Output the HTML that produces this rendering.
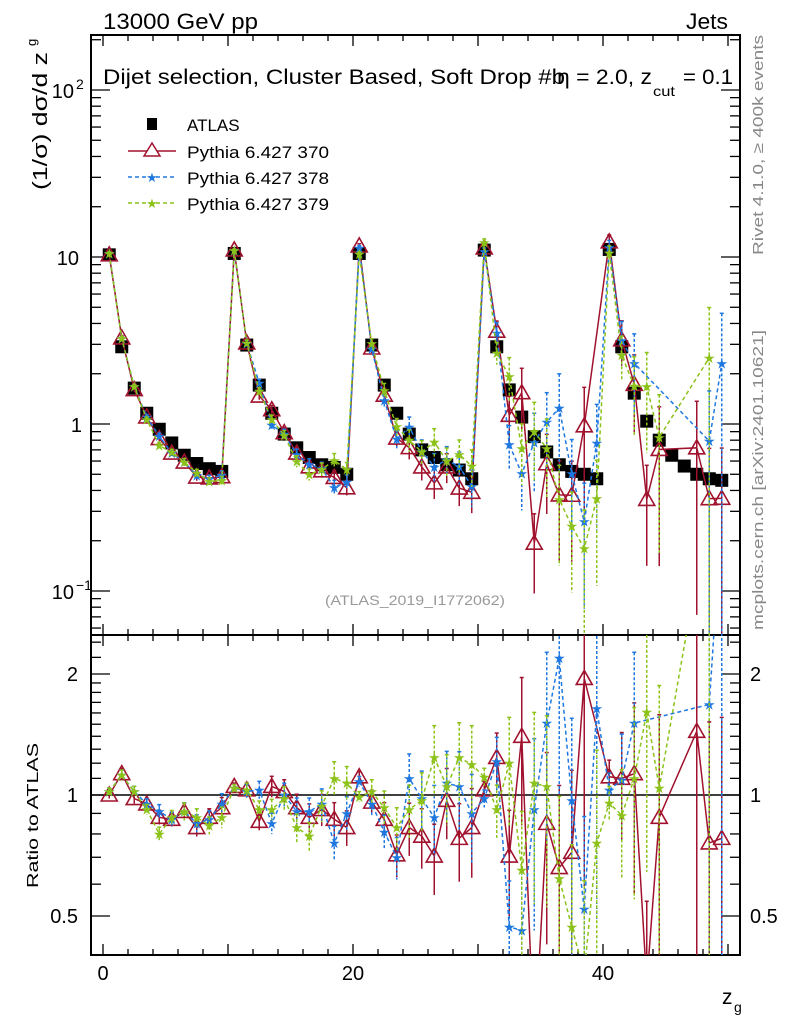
<!DOCTYPE html>
<html><head><meta charset="utf-8"><style>
html,body{margin:0;padding:0;background:#fff;width:786px;height:1024px;overflow:hidden;}
svg{display:block;font-family:"Liberation Sans",sans-serif;}
</style></head><body>
<svg id="chart" width="786" height="1024" viewBox="0 0 786 1024" xmlns="http://www.w3.org/2000/svg">
<defs>
<clipPath id="cm"><rect x="91" y="35" width="649" height="600"/></clipPath>
<clipPath id="cr"><rect x="91" y="635" width="649" height="320"/></clipPath>
</defs>
<text x="103" y="29" font-size="22" textLength="155" lengthAdjust="spacingAndGlyphs">13000 GeV pp</text>
<text x="686" y="29" font-size="22" textLength="42" lengthAdjust="spacingAndGlyphs">Jets</text>
<text x="103" y="84" font-size="21" textLength="462" lengthAdjust="spacingAndGlyphs">Dijet selection, Cluster Based, Soft Drop #b</text>
<text x="557" y="84" font-size="21" textLength="95" lengthAdjust="spacingAndGlyphs">η = 2.0, z</text>
<text x="653" y="96" font-size="14" textLength="22" lengthAdjust="spacingAndGlyphs">cut</text>
<text x="683" y="84" font-size="21" textLength="50" lengthAdjust="spacingAndGlyphs">= 0.1</text>
<text transform="translate(47,190) rotate(-90)" font-size="20" textLength="138" lengthAdjust="spacingAndGlyphs">(1/σ) dσ/d z</text>
<text transform="translate(36,46) rotate(-90)" font-size="13">g</text>
<text transform="translate(38,888) rotate(-90)" font-size="16" textLength="145" lengthAdjust="spacingAndGlyphs">Ratio to ATLAS</text>
<text transform="translate(763,255) rotate(-90)" font-size="15" fill="#888" textLength="220" lengthAdjust="spacingAndGlyphs">Rivet 4.1.0, ≥ 400k events</text>
<text transform="translate(763,630) rotate(-90)" font-size="15" fill="#888" textLength="300" lengthAdjust="spacingAndGlyphs">mcplots.cern.ch [arXiv:2401.10621]</text>
<text x="325" y="605" font-size="14" fill="#999" textLength="180" lengthAdjust="spacingAndGlyphs">(ATLAS_2019_I1772062)</text>
<text x="722" y="1004" font-size="21">z</text>
<text x="734" y="1012" font-size="14">g</text>
<g id="axes"></g>
<g id="main" clip-path="url(#cm)"></g>
<g id="ratio" clip-path="url(#cr)"></g>
<g id="legend">
<rect x="147" y="118" width="10" height="12" fill="#000"/>
<text x="187" y="131" font-size="17">ATLAS</text>
<line x1="128" y1="151" x2="176" y2="151" stroke="#a0122d" stroke-width="1.5"/>
<path d="M152,143 L160,156 L144,156 Z" fill="#fff" stroke="#a0122d" stroke-width="1.5"/>
<text x="187" y="158" font-size="17" textLength="142" lengthAdjust="spacingAndGlyphs">Pythia 6.427 370</text>
<line x1="128" y1="177" x2="176" y2="177" stroke="#1f78e0" stroke-width="1.5" stroke-dasharray="4,3"/>
<text x="152" y="182" font-size="13" fill="#1f78e0" text-anchor="middle">★</text>
<text x="187" y="184" font-size="17" textLength="142" lengthAdjust="spacingAndGlyphs">Pythia 6.427 378</text>
<line x1="128" y1="203" x2="176" y2="203" stroke="#8cc219" stroke-width="1.5" stroke-dasharray="4,3"/>
<text x="152" y="208" font-size="13" fill="#8cc219" text-anchor="middle">★</text>
<text x="187" y="210" font-size="17" textLength="142" lengthAdjust="spacingAndGlyphs">Pythia 6.427 379</text>
</g>
</svg>
<script>
var binCenters = [0.5,1.5,2.5,3.5,4.5,5.5,6.5,7.5,8.5,9.5,10.5,11.5,12.5,13.5,14.5,15.5,16.5,17.5,18.5,19.5,20.5,21.5,22.5,23.5,24.5,25.5,26.5,27.5,28.5,29.5,30.5,31.5,32.5,33.5,34.5,35.5,36.5,37.5,38.5,39.5,40.5,41.5,42.5,43.5,44.5,45.5,46.5,47.5,48.5,49.5];
var atlasVals = [10.3,2.9,1.64,1.16,0.93,0.77,0.65,0.58,0.54,0.52, 10.5,2.97,1.71,1.16,0.87,0.72,0.63,0.57,0.55,0.50, 10.5,2.97,1.71,1.16,0.87,0.70,0.63,0.57,0.53,0.47, 11.0,2.9,1.6,1.1,0.84,0.68,0.57,0.52,0.50,0.47, 11.1,2.9,1.53,1.04,0.80,0.65,0.56,0.50,0.47,0.46];
var ratio370 = [1.0,1.13,0.98,0.95,0.88,0.87,0.91,0.83,0.88,0.93, 1.05,1.03,0.86,1.05,1.02,0.93,0.88,0.92,0.87,0.83, 1.11,0.96,0.87,0.71,0.83,0.79,0.705,0.97,0.78,0.83, 1.03,1.24,0.705,1.40,0.23,0.85,0.66,0.72,1.95,null, 1.11,1.10,1.13,0.34,0.88,null,null,1.44,0.76,0.78];
var ratio378 = [1.02,1.12,1.02,0.95,0.91,0.87,0.91,0.85,0.87,0.95, 1.04,1.02,1.03,0.85,1.0,0.91,0.91,0.95,0.76,0.90, 1.08,0.95,0.81,0.70,1.10,0.98,0.88,1.07,1.05,0.90, 0.98,1.21,0.47,0.46,0.92,1.51,2.19,0.97,0.52,1.64, 1.03,1.09,1.51,null,null,null,null,null,1.68,5.0];
var ratio379 = [1.02,1.12,1.02,0.92,0.80,0.88,0.91,0.88,0.84,0.88, 1.04,1.03,0.92,0.92,0.98,0.83,0.79,0.94,1.10,1.07, 0.99,1.02,0.93,0.83,0.92,0.97,1.24,1.05,1.24,1.19, 1.11,0.92,1.2,0.65,1.07,1.05,0.62,0.47,0.36,0.76, 0.955,0.89,1.10,1.61,1.04,null,null,null,5.3,null];
var relErr = [0.02,0.03,0.03,0.03,0.04,0.04,0.05,0.05,0.05,0.06, 0.02,0.04,0.05,0.06,0.07,0.08,0.08,0.09,0.1,0.1, 0.03,0.07,0.1,0.12,0.15,0.17,0.2,0.2,0.22,0.25, 0.05,0.15,0.3,0.4,0.5,0.5,0.6,0.6,0.7,0.7, 0.1,0.3,0.5,0.6,0.8,0.8,0.9,0.9,1.0,1.0];
var xTickVals = [0,20,40];
var yMainTickVals = [0.1,1,10,100];
var yMainTickLabels = ["10","1","10","10"];
var yRatioTickVals = [0.5,1,2];
var yRatioTickLabels = ["0.5","1","2"];

var NS="http://www.w3.org/2000/svg";
function X(v){return 103+12.5*v;}
function YM(v){return 424-167*Math.log10(v);}
function YR(r){return 795-121*Math.log2(r);}
function mk(tag,attrs,parent){var e=document.createElementNS(NS,tag);for(var k in attrs)e.setAttribute(k,attrs[k]);parent.appendChild(e);return e;}
var axes=document.getElementById('axes'),main=document.getElementById('main'),rat=document.getElementById('ratio');

var f1=mk('rect',{x:91,y:35,width:649,height:600,fill:'none',stroke:'#000','stroke-width':2},axes);


var f2=mk('rect',{x:91,y:635,width:649,height:320,fill:'none',stroke:'#000','stroke-width':2},axes);



for(var v=0;v<=50;v+=2){
  var maj=(v%10===0), L=maj?11:6, x=X(v);
  [35,635].forEach(function(y0){mk('line',{x1:x,y1:y0,x2:x,y2:y0+L,stroke:'#000','stroke-width':1.3},axes);});
  [635,955].forEach(function(y0){mk('line',{x1:x,y1:y0,x2:x,y2:y0-L,stroke:'#000','stroke-width':1.3},axes);});
}
xTickVals.forEach(function(v){
  var t=mk('text',{x:X(v),y:980,'font-size':20,'text-anchor':'middle'},axes);
  
  
  t.textContent=String(v);
});
for(var d=-2;d<=2;d++){for(var m=1;m<=9;m++){
  var val=m*Math.pow(10,d), y=YM(val); if(y<36||y>634)continue;
  var L=(m===1)?19:10;
  mk('line',{x1:91,y1:y,x2:91+L,y2:y,stroke:'#000','stroke-width':1.3},axes);
  mk('line',{x1:740,y1:y,x2:740-L,y2:y,stroke:'#000','stroke-width':1.3},axes);
}}
yMainTickVals.forEach(function(v,i){
  var t=mk('text',{x:(v===1)?82:(v===10?79:74),y:YM(v)+8,'font-size':20,'text-anchor':'end'},axes);
  
  
  t.textContent=yMainTickLabels[i];
  if(v===100||v===0.1){
    var s=mk('text',{x:76,y:YM(v)-1,'font-size':14},axes);
    
    
    s.textContent=(v===100)?'2':'−1';
  }
});
var rMinor=[0.4,0.6,0.7,0.8,0.9,1.1,1.2,1.3,1.4,1.5,1.6,1.7,1.8,1.9,2.2,2.4];
rMinor.concat(yRatioTickVals).forEach(function(r){
  var y=YR(r); if(y<636||y>954)return;
  var L=(yRatioTickVals.indexOf(r)>=0)?19:10;
  mk('line',{x1:91,y1:y,x2:91+L,y2:y,stroke:'#000','stroke-width':1.3},axes);
  mk('line',{x1:740,y1:y,x2:740-L,y2:y,stroke:'#000','stroke-width':1.3},axes);
});
yRatioTickVals.forEach(function(r,i){
  var t=mk('text',{x:78,y:YR(r)+7,'font-size':20,'text-anchor':'end'},axes);
  
  
  t.textContent=yRatioTickLabels[i];
  var t2=mk('text',{x:750,y:YR(r)+7,'font-size':20},axes);
  
  
  t2.textContent=yRatioTickLabels[i];
});
var ref=mk('line',{x1:91,y1:YR(1),x2:740,y2:YR(1),stroke:'#000','stroke-width':1.5},rat);



var series=[
 {name:'370',r:ratio370,color:'#a0122d',dash:null,marker:'tri'},
 {name:'378',r:ratio378,color:'#1f78e0',dash:'4,3',marker:'star'},
 {name:'379',r:ratio379,color:'#8cc219',dash:'4,3',marker:'star'}
];
function marker(s,x,y,g){
  if(s.marker==='tri'){
    var p=mk('path',{d:'M'+x+','+(y-8)+' L'+(x+8)+','+(y+6)+' L'+(x-8)+','+(y+6)+' Z',fill:'none',stroke:s.color,'stroke-width':1.6},g);
    
    
  } else {
    var t=mk('text',{x:x,y:y+5,'font-size':14,fill:s.color,'text-anchor':'middle'},g);
    
    
    t.textContent='★';
  }
}
function drawSeries(s,g,valFn,yFn,panel){
  var pts=[];
  binCenters.forEach(function(c,i){var v=valFn(i);if(v!==null&&v>0)pts.push([i,X(c),v]);});
  var d=pts.map(function(p,k){return (k?'L':'M')+p[1]+','+yFn(p[2]);}).join(' ');
  var attrs={d:d,fill:'none',stroke:s.color,'stroke-width':1.5};
  if(s.dash)attrs['stroke-dasharray']=s.dash;
  var ln=mk('path',attrs,g);
  
  
  pts.forEach(function(p){
    var e=relErr[p[0]], hi=yFn(p[2]*(1+e)), lo=(e>=1)?960:yFn(p[2]*(1-e));
    var eb={x1:p[1],y1:hi,x2:p[1],y2:lo,stroke:s.color,'stroke-width':1.5};
    if(s.dash)eb['stroke-dasharray']='3,2';
    var b=mk('line',eb,g);
    
    
    mk('line',{x1:p[1]-2,y1:hi,x2:p[1]+2,y2:hi,stroke:s.color,'stroke-width':1.5},g);
    marker(s,p[1],yFn(p[2]),g);
  });
}
binCenters.forEach(function(c,i){
  var r=mk('rect',{x:X(c)-6.5,y:YM(atlasVals[i])-6.5,width:13,height:13,fill:'#000'},main);
  
  
});
series.forEach(function(s){
  drawSeries(s,main,function(i){return s.r[i]===null?null:s.r[i]*atlasVals[i];},YM,'main');
});
series.forEach(function(s){
  drawSeries(s,rat,function(i){return s.r[i];},YR,'ratio');
});
</script>
</body></html>
